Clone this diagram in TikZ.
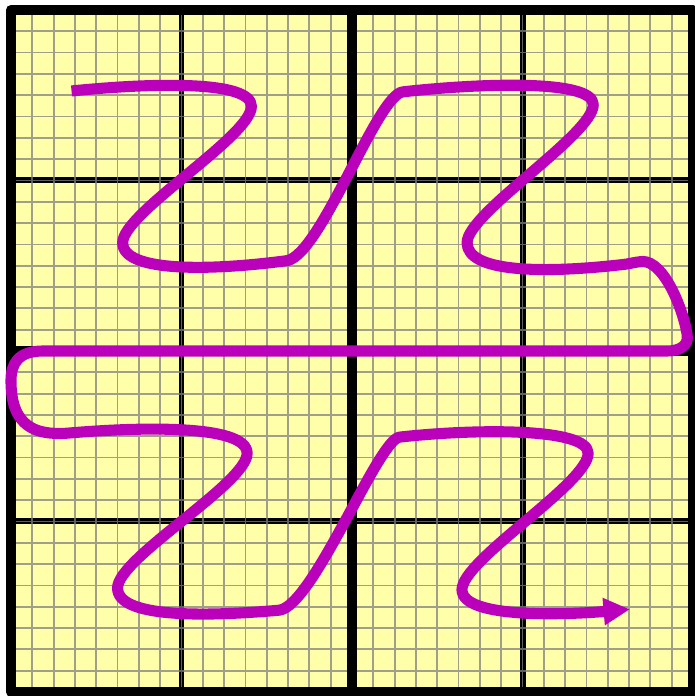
\documentclass[tikz,border=0pt]{standalone}
\usetikzlibrary{arrows.meta}

\definecolor{paperyellow}{RGB}{255,255,170}
\definecolor{curvepurple}{RGB}{187,0,187}

\begin{document}
\begin{tikzpicture}[
  x=1cm,
  y=1cm,
  gridminor/.style={gray, opacity=0.75, line width=0.6pt},
  gridmajor/.style={black, line width=2pt},
  gridaxis/.style={black, line width=3.3pt},
  gridframe/.style={black, line width=3.3pt, line join=round},
  curvepath/.style={
    curvepurple,
    line width=3.7pt,
    line join=round,
    -{Triangle[length=8.8pt,width=8.6pt]}
  }
]

% Canvas, cut at the right and bottom edges
\useasboundingbox (-4.129,-4.047) rectangle (4.012,4.117);

% Paper
\fill[paperyellow] (-4,-4) rectangle (4,4);

% Major lines
\foreach \v in {-2,2} {
  \draw[gridmajor] (\v,-4) -- (\v,4);
  \draw[gridmajor] (-4,\v) -- (4,\v);
}

% Fine grid, over the major lines
\draw[gridminor, step=0.25] (-4,-4) grid (4,4);

% Axes and frame
\draw[gridaxis] (0,-4) -- (0,4);
\draw[gridaxis] (-4,0) -- (4,0);
\draw[gridframe] (-4,-4) rectangle (4,4);

% The curve
\draw[curvepath]
  (-3.29,3.05) .. controls +(1.0,0.1) and +(0,0.3) .. (-1.18,2.87)
  .. controls +(0,-0.35) and +(0,0.35) .. (-2.69,1.27)
  .. controls +(0,-0.35) and +(-0.9,-0.12) .. (-0.76,1.06)
  .. controls +(0.4,0.08) and +(-0.3,-0.02) .. (0.60,3.04)
  .. controls +(0.9,0.1) and +(0,0.3) .. (2.83,2.89)
  .. controls +(0,-0.35) and +(0,0.35) .. (1.35,1.27)
  .. controls +(0,-0.35) and +(-0.9,-0.1) .. (3.14,1.01)
  .. controls +(0.12,0.01) and +(-0.12,-0.01) .. (3.41,1.05)
  .. controls +(0.25,0) and +(-0.05,0.3) .. (3.93,0.20)
  .. controls +(0.03,-0.15) and +(0.12,0) .. (3.70,0.0)
  -- (-3.62,0.0)
  .. controls +(-0.3,0) and +(0,0.2) .. (-4.0,-0.35)
  .. controls +(0,-0.55) and +(-0.35,-0.02) .. (-3.35,-0.965)
  .. controls +(0.8,0.07) and +(0,0.35) .. (-1.23,-1.20)
  .. controls +(0,-0.35) and +(0,0.35) .. (-2.75,-2.78)
  .. controls +(0,-0.35) and +(-0.9,-0.08) .. (-0.85,-3.04)
  .. controls +(0.4,0.06) and +(-0.25,-0.02) .. (0.56,-1.01)
  .. controls +(0.9,0.1) and +(0,0.3) .. (2.77,-1.20)
  .. controls +(0,-0.35) and +(0,0.35) .. (1.29,-2.80)
  .. controls +(0,-0.35) and +(-0.7,-0.06) .. (3.26,-3.03);

\end{tikzpicture}
\end{document}
